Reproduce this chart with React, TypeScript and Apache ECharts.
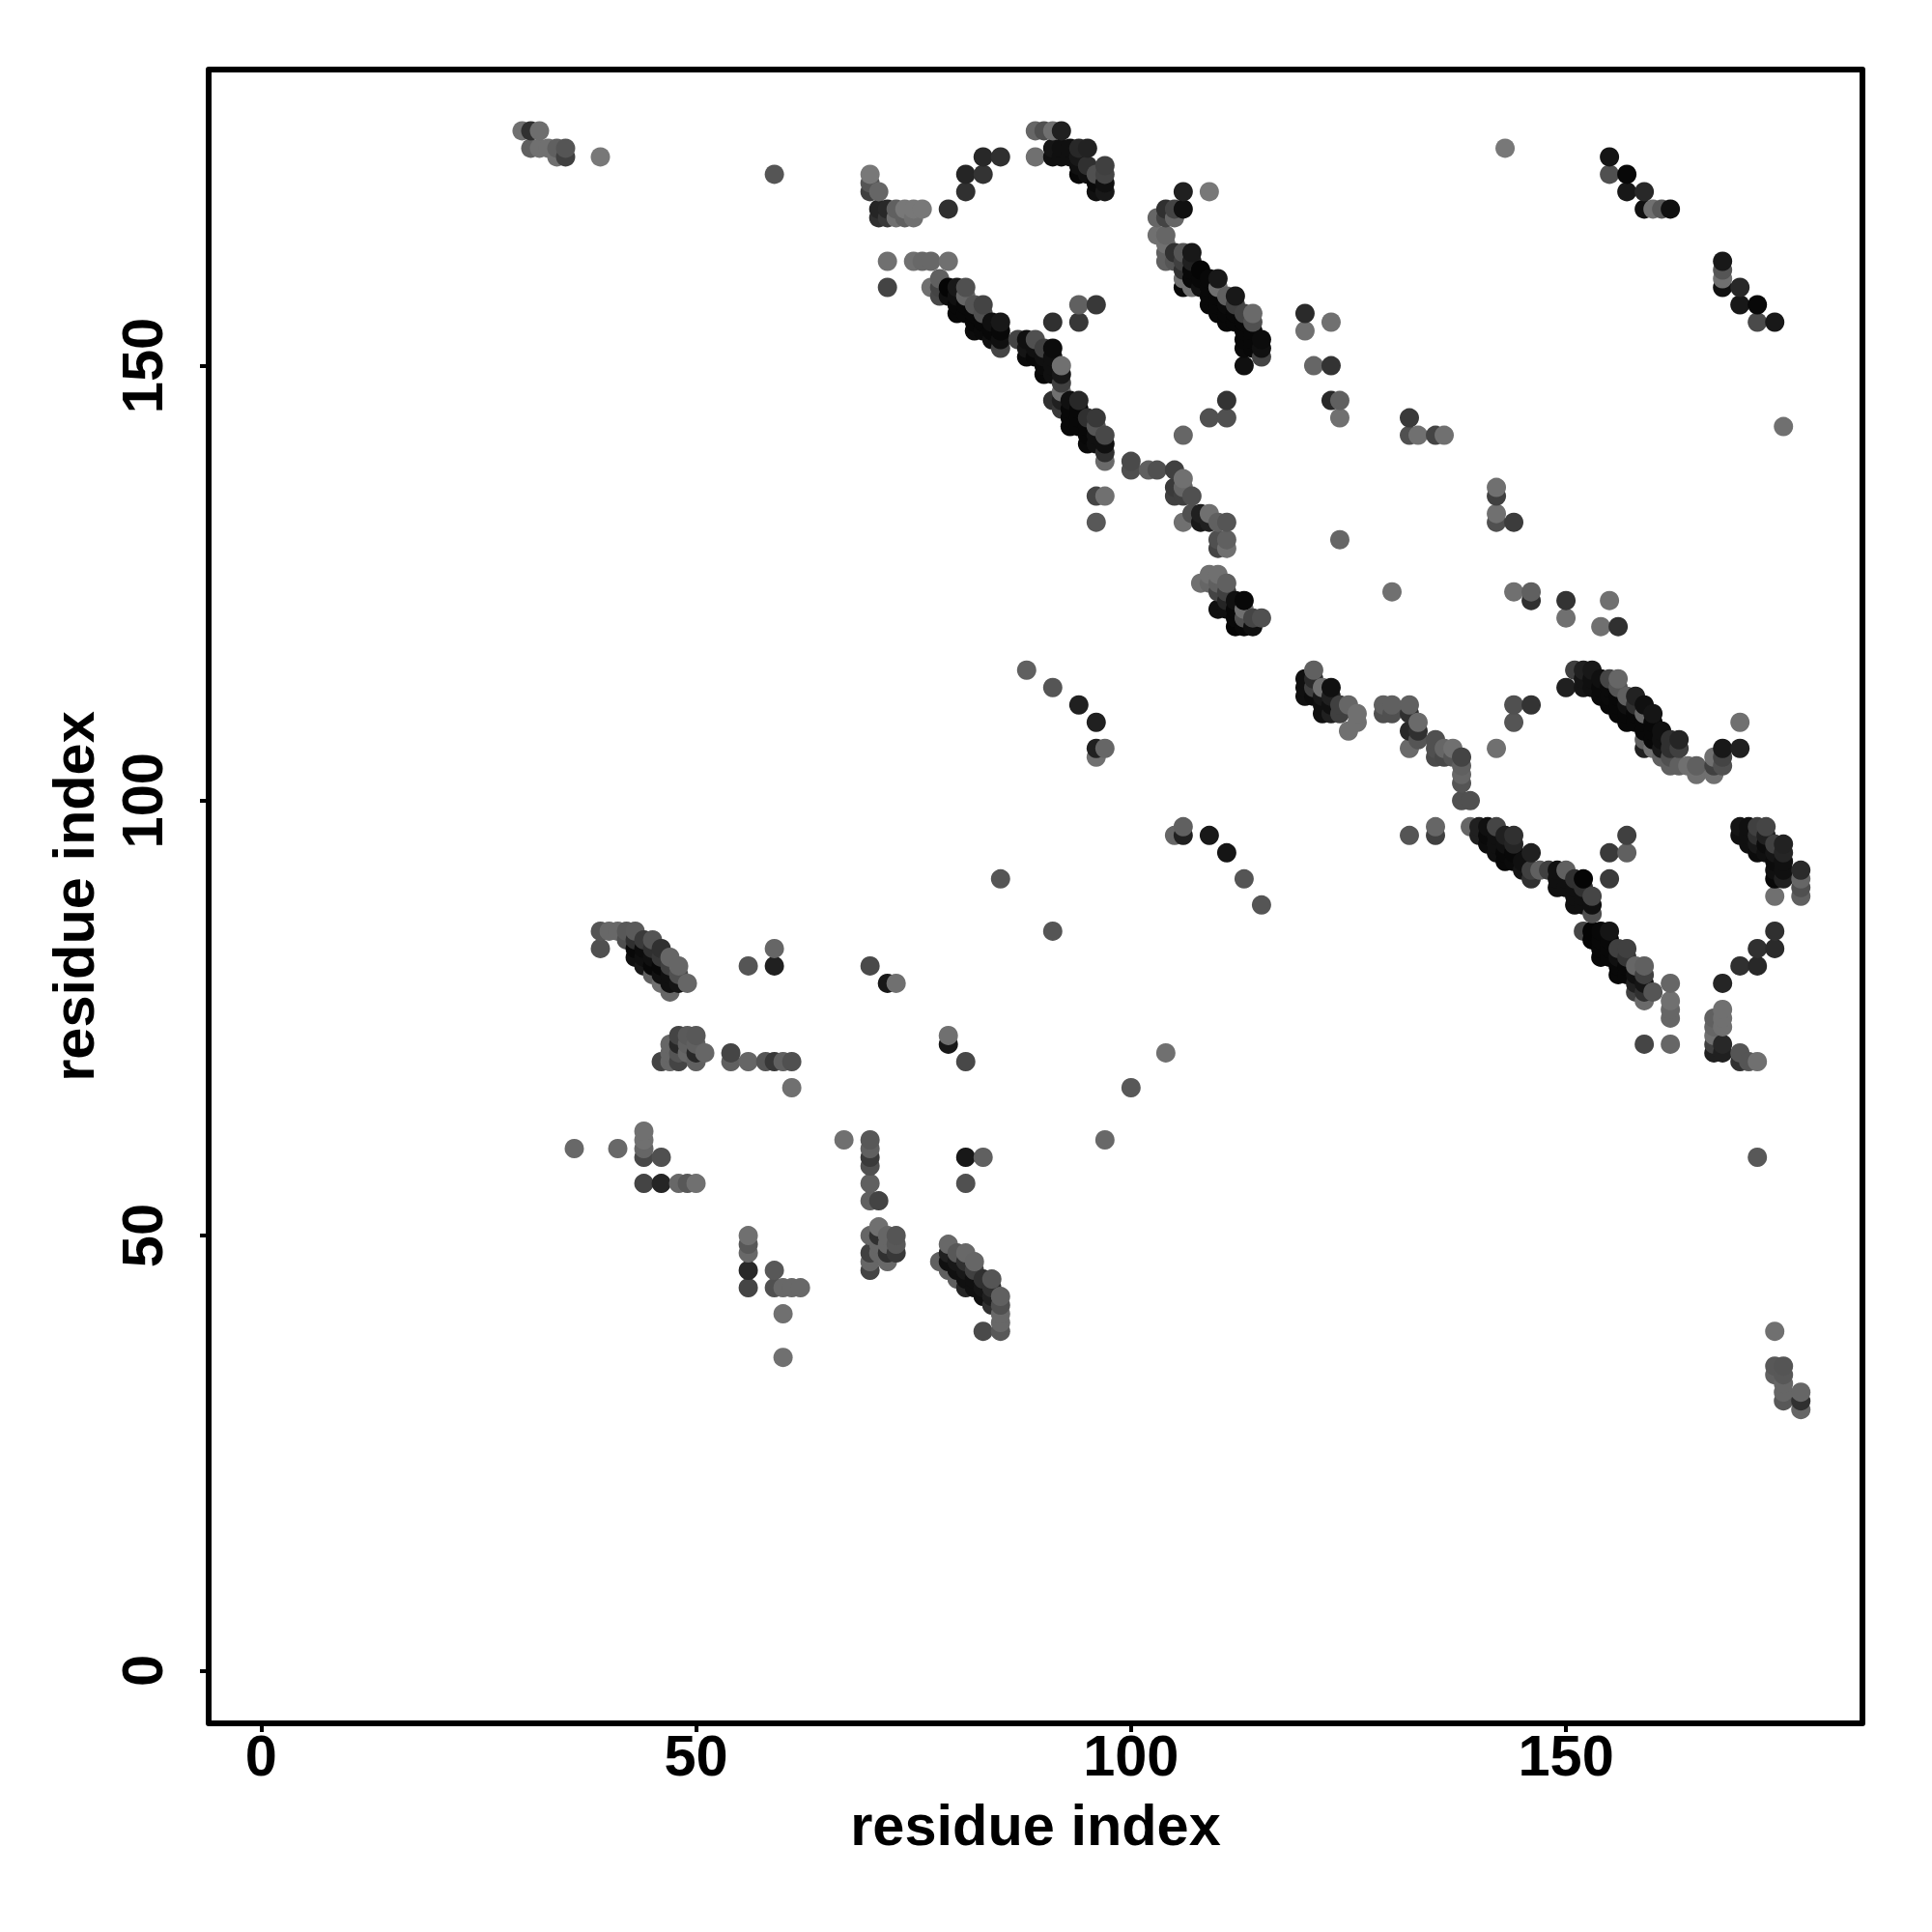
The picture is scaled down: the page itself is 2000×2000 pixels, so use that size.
import React, { useEffect, useRef } from "react";
import * as echarts from "echarts";

type P = [number, number, number];

const tickValues = [0, 50, 100, 150];
const axisTitle = "residue index";

// [residue x, residue y, grey level of the dot]
const topLeft: P[] = [
  [30,177,0x70],[31,177,0x30],[32,177,0x6e],[31,175,0x60],[32,175,0x70],[33,175,0x70],[34,175,0x60],[35,175,0x55],
  [34,174,0x70],[35,174,0x40],[39,174,0x78],[59,172,0x55],
];
const arcA: P[] = [
  [70,172,0x78],[70,171,0x55],[70,170,0x40],[71,170,0x66],[71,168,0x25],[72,168,0x28],[73,168,0x60],[74,168,0x78],[75,168,0x78],[76,168,0x78],
  [71,167,0x30],[72,167,0x38],[73,167,0x70],[74,167,0x60],[75,167,0x70],[79,168,0x30],[81,170,0x30],[81,172,0x25],[83,172,0x33],[83,174,0x28],[85,174,0x30],
  [89,177,0x66],[90,177,0x50],[91,177,0x70],[92,177,0x20],[91,175,0x15],[92,175,0x10],[93,175,0x10],[94,175,0x28],[95,175,0x22],[89,174,0x70],
  [91,174,0x10],[92,174,0x10],[93,174,0x10],[94,174,0x18],[94,173,0x10],[95,173,0x30],[97,173,0x40],[94,172,0x08],[95,172,0x10],[96,172,0x50],[97,172,0x44],
  [96,171,0x0a],[97,171,0x10],[96,170,0x10],[97,170,0x18],
];
const chainA: P[] = [
  [72,162,0x70],[75,162,0x70],[76,162,0x68],[77,162,0x68],[79,162,0x70],[72,159,0x44],[78,160,0x60],[77,159,0x70],[78,159,0x44],[78,158,0x48],[79,159,0x05],[79,158,0x10],
  [80,159,0x18],[81,159,0x50],[81,158,0x66],[80,158,0x10],[80,157,0x08],[80,156,0x08],[81,157,0x08],[81,156,0x08],[82,157,0x55],[83,157,0x44],[83,156,0x50],[82,156,0x08],[82,155,0x08],[82,154,0x0c],[83,155,0x08],[83,154,0x0a],
  [84,155,0x10],[84,154,0x08],[84,153,0x10],[85,155,0x18],[85,154,0x08],[85,153,0x10],[85,152,0x44],[94,157,0x60],[96,157,0x38],[91,155,0x30],[94,155,0x38],
  [87,153,0x44],[88,153,0x10],[89,153,0x50],[88,152,0x15],[88,151,0x0a],[89,152,0x10],[89,151,0x08],[90,152,0x40],[91,152,0x0c],[90,151,0x10],[91,151,0x10],[90,150,0x0a],[90,149,0x08],[91,150,0x10],[91,149,0x10],[92,150,0x70],[92,149,0x18],[92,148,0x40],[92,147,0x70],
  [91,146,0x30],[92,146,0x20],[92,145,0x38],[93,146,0x10],[94,146,0x28],[93,145,0x08],[93,144,0x08],[93,143,0x08],[94,145,0x08],[94,144,0x08],[94,143,0x08],[95,144,0x30],[96,144,0x38],[96,143,0x55],[95,143,0x08],[95,142,0x08],[95,141,0x0a],[96,142,0x10],[96,141,0x10],
  [97,142,0x48],[97,141,0x10],[97,140,0x30],[97,139,0x6a],[100,139,0x4a],[100,138,0x50],[102,138,0x60],[103,138,0x50],[96,135,0x44],[97,135,0x70],[96,132,0x58],
];
const upperRight: P[] = [
  [143,175,0x78],[155,174,0x15],[155,172,0x50],[157,172,0x08],[157,170,0x18],[159,170,0x28],[159,168,0x10],[160,168,0x70],[161,168,0x58],[162,168,0x10],
  [168,162,0x18],[168,161,0x55],[168,160,0x70],[168,159,0x10],[170,159,0x28],[170,157,0x18],[172,157,0x08],[172,155,0x4a],[174,155,0x18],
  [175,143,0x70],
];
const chainB: P[] = [
  [106,170,0x20],[109,170,0x78],[106,168,0x10],[105,168,0x44],[104,168,0x30],[105,167,0x66],[104,167,0x44],[103,167,0x66],[103,165,0x70],[104,165,0x66],[104,164,0x70],
  [105,163,0x30],[106,163,0x55],[107,163,0x18],[104,163,0x60],[104,162,0x60],[105,162,0x55],[106,162,0x40],[106,161,0x30],[107,162,0x20],[108,161,0x05],[106,160,0x70],[107,161,0x08],[107,160,0x08],
  [110,160,0x18],[109,160,0x08],[108,160,0x08],[106,159,0x08],[107,159,0x70],[108,159,0x10],[109,159,0x08],[109,158,0x08],[110,159,0x70],[110,158,0x08],[111,158,0x60],[112,158,0x18],[109,157,0x08],[110,157,0x08],[110,156,0x08],[111,157,0x0a],[112,157,0x40],
  [111,156,0x08],[111,155,0x08],[112,156,0x08],[112,155,0x08],[113,156,0x44],[114,156,0x6a],[114,155,0x50],[113,155,0x08],[113,154,0x08],[114,154,0x08],[115,153,0x0c],[113,153,0x08],[114,153,0x08],[113,152,0x0a],[114,152,0x08],[115,152,0x10],[115,151,0x44],[113,150,0x10],
  [120,156,0x2a],[120,154,0x70],[123,155,0x70],[121,150,0x66],[123,150,0x33],[111,146,0x33],[109,144,0x50],[111,144,0x50],[106,142,0x66],[123,146,0x28],[124,146,0x60],[124,144,0x70],
  [132,144,0x3a],[132,142,0x50],[133,142,0x70],[135,142,0x44],[136,142,0x70],
];
const chainC: P[] = [
  [105,138,0x40],[106,137,0x70],[105,136,0x3a],[106,136,0x66],[105,135,0x40],[106,135,0x40],[107,135,0x50],[107,133,0x50],[108,133,0x20],[109,133,0x70],[106,132,0x70],[108,132,0x18],[109,132,0x20],[110,132,0x60],[111,132,0x55],
  [110,130,0x50],[111,130,0x60],[110,129,0x44],[111,129,0x70],[124,130,0x66],[142,136,0x70],[142,135,0x40],[142,133,0x70],[142,132,0x50],[144,132,0x3c],
  [109,126,0x70],[110,126,0x70],[108,125,0x70],[109,125,0x66],[110,125,0x60],[111,125,0x60],[110,124,0x44],[111,124,0x40],[110,122,0x10],[111,123,0x25],[111,122,0x10],[112,123,0x10],[113,123,0x08],[112,122,0x08],[113,122,0x70],
  [112,120,0x05],[112,121,0x08],[113,121,0x50],[113,120,0x08],[114,120,0x10],[114,121,0x45],[115,121,0x50],
  [130,124,0x70],[144,124,0x70],[146,124,0x60],[146,123,0x30],[150,123,0x33],[150,121,0x70],[155,123,0x70],[154,120,0x70],[156,120,0x30],
];
const middle: P[] = [
  [88,115,0x60],[91,113,0x55],[94,111,0x20],[96,109,0x20],[96,106,0x20],[97,106,0x66],[96,105,0x70],
  [121,115,0x60],[120,114,0x10],[121,114,0x2a],[120,113,0x10],[120,112,0x10],[121,113,0x40],[122,113,0x70],[123,113,0x10],[121,112,0x0c],[122,112,0x18],[123,112,0x20],[122,111,0x10],[123,111,0x10],[122,110,0x10],[123,110,0x20],[124,111,0x40],[124,110,0x40],[125,111,0x66],[126,110,0x70],[126,109,0x70],[125,108,0x70],
  [129,111,0x60],[130,111,0x60],[132,111,0x60],[129,110,0x50],[130,110,0x50],[132,110,0x30],[133,109,0x6a],[132,108,0x28],[133,108,0x30],[133,107,0x55],[132,106,0x6a],[135,107,0x50],[135,106,0x50],[135,105,0x4a],[136,106,0x66],[137,106,0x70],[138,105,0x44],[137,105,0x55],[136,105,0x48],[138,104,0x60],[138,103,0x66],[138,102,0x55],[138,100,0x50],[139,100,0x50],
  [142,106,0x70],[144,111,0x50],[146,111,0x33],[144,109,0x55],
  [151,115,0x40],[152,115,0x20],[153,115,0x18],[150,113,0x20],[152,113,0x15],[152,114,0x15],[153,114,0x10],[154,114,0x10],[155,114,0x45],[156,114,0x66],[153,113,0x10],[154,113,0x0a],[155,113,0x0a],[156,113,0x55],[154,112,0x0a],[155,112,0x0a],[155,111,0x08],[156,112,0x08],[156,111,0x08],[156,110,0x08],[157,112,0x60],[158,112,0x22],[157,111,0x10],[158,111,0x30],[157,110,0x08],[157,109,0x08],[158,110,0x08],[158,109,0x08],[159,111,0x10],[159,110,0x66],[160,110,0x15],[159,109,0x08],[160,109,0x08],[159,108,0x08],[160,108,0x08],[161,108,0x10],[159,107,0x60],[160,107,0x08],[159,106,0x20],[160,106,0x70],[161,107,0x10],[161,106,0x18],[162,107,0x30],[163,107,0x25],[162,106,0x30],[163,106,0x40],[162,105,0x50],[161,105,0x60],[162,104,0x60],[163,104,0x60],[164,104,0x70],[165,104,0x60],[165,103,0x70],[167,105,0x70],[167,104,0x40],[167,103,0x70],[168,104,0x50],[168,105,0x44],[168,106,0x18],[170,106,0x20],[170,109,0x70],
];
const chainD: P[] = [
  [106,97,0x60],[105,96,0x66],[106,96,0x20],[109,96,0x18],[111,94,0x15],[113,91,0x55],[115,88,0x55],[85,91,0x55],[91,85,0x55],[104,71,0x70],
  [132,96,0x55],[135,97,0x66],[135,96,0x40],[139,97,0x66],[140,97,0x20],[141,97,0x10],[142,97,0x45],[140,96,0x20],[141,96,0x0a],[142,96,0x10],[141,95,0x0c],[144,96,0x30],[143,96,0x20],[143,95,0x10],[144,95,0x25],[142,95,0x10],[142,94,0x10],[143,94,0x08],[143,93,0x08],[144,94,0x08],[144,93,0x0a],[146,94,0x20],[145,93,0x10],[145,92,0x15],[146,92,0x40],[146,91,0x30],[147,92,0x60],[148,92,0x40],[149,92,0x10],[150,92,0x60],[149,91,0x10],[149,90,0x10],[150,91,0x10],[150,90,0x10],[151,91,0x30],[152,91,0x05],[151,90,0x10],[151,89,0x10],[151,88,0x10],[152,90,0x30],[152,89,0x10],[152,88,0x10],[153,89,0x45],[153,88,0x10],[153,87,0x50],
  [157,96,0x40],[155,94,0x3a],[157,94,0x60],[155,91,0x3a],
  [152,85,0x45],[153,85,0x05],[154,85,0x08],[155,85,0x15],[153,84,0x05],[154,84,0x08],[155,84,0x08],[154,83,0x08],[155,83,0x08],[154,82,0x08],[155,82,0x08],[156,83,0x40],[157,83,0x40],[156,82,0x10],[157,82,0x35],[156,81,0x08],[156,80,0x08],[157,81,0x08],[157,80,0x08],[158,81,0x66],[159,81,0x60],[158,80,0x10],[159,80,0x40],[158,79,0x20],[159,79,0x15],[158,78,0x40],[160,78,0x55],[159,77,0x6a],[159,78,0x30],
  [162,79,0x66],[162,77,0x70],[162,76,0x66],[162,75,0x66],[168,79,0x25],[170,81,0x30],[172,81,0x28],[172,83,0x30],[174,83,0x2a],[174,85,0x30],
  [159,72,0x45],[162,72,0x66],[168,76,0x70],[167,75,0x60],[168,75,0x70],[167,74,0x66],[168,74,0x70],[167,73,0x70],[167,72,0x40],[168,72,0x28],[167,71,0x20],[168,71,0x20],[170,71,0x55],[170,70,0x30],[171,70,0x55],[172,70,0x70],[172,59,0x58],
  [174,39,0x70],[174,35,0x58],[175,35,0x55],[174,34,0x60],[175,34,0x58],[175,33,0x66],[175,32,0x66],[175,31,0x58],[177,32,0x66],[177,31,0x30],[177,30,0x66],
  [170,97,0x15],[171,97,0x10],[172,97,0x40],[173,97,0x45],[170,96,0x10],[171,96,0x10],[172,96,0x30],[171,95,0x10],[172,95,0x18],[173,96,0x20],[173,95,0x0c],[173,94,0x10],[172,94,0x0c],[174,95,0x40],[175,95,0x22],[174,94,0x15],[175,94,0x25],[174,93,0x0c],[175,93,0x10],[174,92,0x10],[175,92,0x10],[174,91,0x08],[175,91,0x20],[177,92,0x2a],[177,91,0x66],[177,90,0x50],[177,89,0x60],[174,89,0x70],
];
const lowerLeft: P[] = [
  [39,85,0x55],[40,85,0x68],[41,85,0x68],[42,85,0x58],[43,85,0x5a],[39,83,0x50],[42,84,0x50],[43,84,0x30],[44,84,0x3a],[45,84,0x55],[43,83,0x08],[44,83,0x0c],[45,83,0x30],[46,83,0x30],
  [43,82,0x10],[44,82,0x10],[45,82,0x10],[46,82,0x38],[47,82,0x66],[44,81,0x18],[45,81,0x08],[46,81,0x08],[47,81,0x40],[48,81,0x66],[45,80,0x60],[46,80,0x10],[47,80,0x10],[48,80,0x50],[46,79,0x70],[47,79,0x10],[48,79,0x15],[49,79,0x66],[47,78,0x66],
  [59,83,0x66],[56,81,0x55],[59,81,0x20],[70,81,0x4a],[72,79,0x18],[73,79,0x70],
  [48,73,0x44],[49,73,0x5a],[50,73,0x58],[48,72,0x28],[49,72,0x60],[50,72,0x60],[47,72,0x66],[48,71,0x55],[49,71,0x66],[50,71,0x28],[51,71,0x66],[47,71,0x66],[46,70,0x44],[47,70,0x66],[48,70,0x44],[50,70,0x60],
  [54,71,0x45],[54,70,0x60],[56,70,0x66],[58,70,0x55],[59,70,0x38],[60,70,0x60],[61,70,0x50],[61,67,0x70],[79,73,0x70],[79,72,0x18],[81,70,0x48],[100,67,0x58],[97,61,0x68],
  [36,60,0x68],[41,60,0x68],[44,62,0x70],[44,61,0x70],[44,60,0x66],[44,59,0x48],[46,59,0x50],[44,56,0x44],[46,56,0x25],[48,56,0x68],[49,56,0x58],[50,56,0x70],
  [67,61,0x70],[70,61,0x58],[70,60,0x60],[70,59,0x3a],[70,58,0x50],[70,56,0x60],[70,54,0x60],[71,54,0x44],[81,59,0x18],[83,59,0x60],[81,56,0x50],
];
const lowerCluster: P[] = [
  [71,51,0x70],[70,50,0x66],[71,50,0x30],[72,50,0x66],[73,50,0x55],[71,49,0x66],[72,49,0x66],[73,49,0x58],[70,48,0x40],[71,48,0x66],[72,48,0x30],[73,48,0x38],[70,47,0x66],[72,47,0x68],[70,46,0x44],
  [79,49,0x68],[79,48,0x20],[80,48,0x58],[81,48,0x68],[78,47,0x60],[79,47,0x10],[80,47,0x18],[81,47,0x30],[82,47,0x66],[79,46,0x60],[80,46,0x10],[81,46,0x18],[82,46,0x40],[80,45,0x60],[81,45,0x10],[82,45,0x10],[83,45,0x30],[84,45,0x55],[81,44,0x25],[82,44,0x10],[83,44,0x15],[84,44,0x30],[83,43,0x10],[84,43,0x20],[85,43,0x60],[84,42,0x30],[85,42,0x50],[85,41,0x68],[85,40,0x68],[83,39,0x4a],[85,39,0x58],
  [56,50,0x70],[56,49,0x58],[56,48,0x68],[56,46,0x28],[56,44,0x45],[59,46,0x58],[59,44,0x50],[60,44,0x68],[61,44,0x68],[62,44,0x68],[60,41,0x70],[60,36,0x70],
];

// the source plot paints its dots column by column, from low to high residue
const dots: P[] = [...topLeft, ...arcA, ...chainA, ...upperRight, ...chainB, ...chainC, ...middle, ...chainD, ...lowerLeft, ...lowerCluster]
  .sort((a, b) => a[0] - b[0] || a[1] - b[1]);

const font = "Liberation Sans";
const textSize = 59.5;

export default function App() {
  const ref = useRef<HTMLDivElement>(null);
  useEffect(() => {
    const chart = echarts.init(ref.current!, undefined, { renderer: "svg" });
    const axis = (gap: number, rotate: number, margin: number) => ({
      type: "value" as const,
      name: axisTitle,
      nameLocation: "middle" as const,
      nameGap: gap,
      nameTextStyle: { fontFamily: font, fontWeight: "bold" as const, fontSize: textSize, color: "#000" },
      axisLine: { show: false, onZero: false },
      splitLine: { show: false },
      axisTick: { show: true, length: 9, lineStyle: { color: "#000", width: 4 }, customValues: tickValues },
      axisLabel: { show: true, rotate, margin, fontFamily: font, fontWeight: "bold" as const, fontSize: textSize, color: "#000", customValues: tickValues },
    });
    chart.setOption({
      animation: false,
      backgroundColor: "#fff",
      grid: { show: false, left: 216, top: 72, width: 1712, height: 1712 },
      graphic: [{
        type: "rect",
        z: 10,
        shape: { x: 216, y: 72, width: 1712, height: 1712 },
        style: { fill: "none", stroke: "#000", lineWidth: 6, lineJoin: "round" },
      }],
      xAxis: { ...axis(75, 0, 3), min: -6.03, max: 184.08 },
      yAxis: { ...axis(110, 90, 38.5), min: -6.07, max: 184.04 },
      series: [{
        type: "scatter",
        symbol: "circle",
        symbolSize: 20,
        data: dots,
        encode: { x: 0, y: 1 },
        itemStyle: { opacity: 1, color: (p: any) => { const g = p.data[2]; return `rgb(${g},${g},${g})`; } },
      }],
    });
    return () => chart.dispose();
  }, []);
  return <div ref={ref} style={{ position: "absolute", left: 0, top: 0, width: 2000, height: 2000 }} />;
}
